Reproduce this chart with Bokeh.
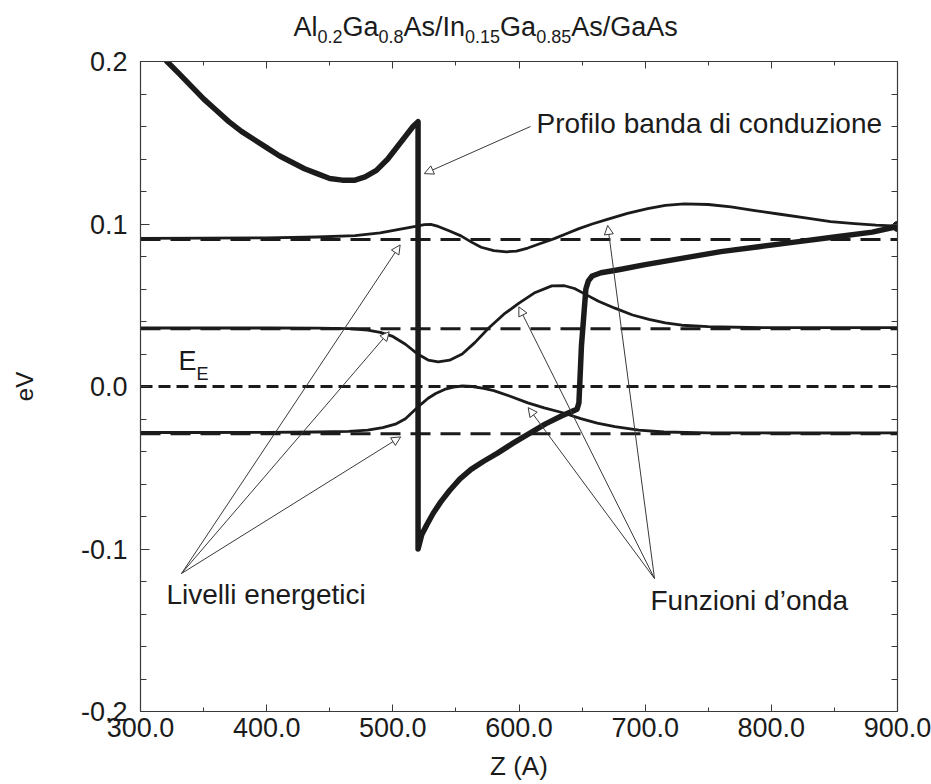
from bokeh.plotting import figure
from bokeh.layouts import column
from bokeh.models import (Range1d, LinearAxis, SingleIntervalTicker, PrintfTickFormatter,
                          CustomJSTickFormatter, Label, Arrow, NormalHead)
from bokeh.core.properties import value
from bokeh.embed import file_html
from bokeh.resources import INLINE

# ---- conduction band profile (eV) vs Z (Angstrom) ----
band_z = [318, 321, 330, 340, 350, 360, 370, 380, 390, 400, 410, 420, 430, 440, 450, 460,
          470, 478, 487, 496, 504, 512, 516, 520,
          520, 523, 527, 532, 538, 545, 553, 562, 572, 583, 595, 608, 621, 634, 643, 646,
          647.5, 649.5, 651.5, 653, 655, 658, 665, 680, 700, 730, 760, 790, 820, 850, 880, 900]
band_e = [0.203, 0.200, 0.193, 0.185, 0.177, 0.170, 0.163, 0.157, 0.152, 0.147, 0.142, 0.138,
          0.134, 0.131, 0.128, 0.127, 0.127, 0.129, 0.133, 0.140, 0.148, 0.156, 0.160, 0.163,
          -0.100, -0.091, -0.085, -0.078, -0.071, -0.064, -0.057, -0.051, -0.046, -0.041,
          -0.035, -0.029, -0.023, -0.018, -0.015, -0.014,
          -0.010, 0.025, 0.045, 0.060, 0.065, 0.068, 0.070, 0.072, 0.075, 0.079, 0.083,
          0.086, 0.089, 0.092, 0.095, 0.0985]

# ---- energy levels (eV) and Fermi level ----
levels = [0.0905, 0.0355, -0.029]
fermi = 0.0

# ---- wavefunctions drawn around their levels ----
wf1_z = [300, 350, 400, 440, 470, 490, 505, 518, 525, 530, 536, 544, 554, 562, 570, 580, 590,
         598, 607, 617, 628, 638, 647, 658, 670, 686, 702, 716, 731, 750, 768, 787, 807, 827,
         847, 866, 883, 900]
wf1_e = [0.0912, 0.0913, 0.0915, 0.0920, 0.0928, 0.0945, 0.0967, 0.0985, 0.0996, 0.0998,
         0.0985, 0.0960, 0.0927, 0.0890, 0.0857, 0.0836, 0.0829, 0.0833, 0.0852, 0.0880,
         0.0910, 0.0942, 0.0970, 0.1000, 0.1028, 0.1065, 0.1095, 0.1115, 0.1124, 0.1120,
         0.1105, 0.1083, 0.1060, 0.1037, 0.1015, 0.1002, 0.0993, 0.0987]

wf2_z = [300, 350, 400, 440, 465, 480, 490, 500, 510, 520, 528, 536, 545, 555, 565, 576, 588,
         600, 612, 626, 636, 644, 652, 663, 676, 690, 703, 716, 729, 750, 782, 820, 860, 900]
wf2_e = [0.0360, 0.0360, 0.0360, 0.0359, 0.0356, 0.0347, 0.0333, 0.0308, 0.0260, 0.0198,
         0.0163, 0.0151, 0.0162, 0.0200, 0.0270, 0.0360, 0.0445, 0.0513, 0.0575, 0.0619,
         0.0620, 0.0603, 0.0570, 0.0525, 0.0482, 0.0440, 0.0413, 0.0392, 0.0377, 0.0368,
         0.0363, 0.0362, 0.0362, 0.0362]

wf3_z = [300, 350, 400, 440, 465, 480, 492, 502, 510, 518, 523, 528, 534, 541, 548, 555, 563,
         572, 580, 593, 607, 620, 634, 649, 662, 676, 695, 715, 750, 800, 850, 900]
wf3_e = [-0.0283, -0.0283, -0.0282, -0.0280, -0.0276, -0.0268, -0.0253, -0.0232, -0.0198,
         -0.0140, -0.0105, -0.0072, -0.0043, -0.0018, -0.0004, 0.0003, 0.0000, -0.0012,
         -0.0025, -0.0060, -0.0101, -0.0132, -0.0160, -0.0198, -0.0225, -0.0247, -0.0268,
         -0.0280, -0.0285, -0.0286, -0.0286, -0.0285]

# ---- title pieces: (text, is_subscript) ----
title_parts = [("Al", False), ("0.2", True), ("Ga", False), ("0.8", True), ("As/In", False),
               ("0.15", True), ("Ga", False), ("0.85", True), ("As/GaAs", False)]

z_range = (300, 900)
e_range = (-0.2, 0.2)

FONT = "Liberation Sans"
INK = "#1b1b1b"
THIN = "#3a3a3a"
W = 931
TITLE_H = 46
PLOT_H = 784 - TITLE_H
FRAME_TOP = 61
BORDER_L, BORDER_R = 140, 34

# pixel helpers for annotation placement (frame: 757 x 650 px, top at y=61)
PX_PER_Z = 757 / 600.0
PX_PER_E = 650 / 0.4


def zpos(px):
    return 300 + (px - BORDER_L) / PX_PER_Z


def epos(py):
    return 0.2 - (py - FRAME_TOP) / PX_PER_E


# ---------------- title strip (shares the Z scale of the plot below) ----------------
xr = Range1d(*z_range)
tfig = figure(width=W, height=TITLE_H, x_range=xr, y_range=Range1d(TITLE_H, 0),
              title=None, output_backend="svg", toolbar_location=None, x_axis_type=None,
              y_axis_type=None, min_border_left=BORDER_L, min_border_right=BORDER_R,
              min_border_top=0, min_border_bottom=0)
tfig.grid.visible = False
tfig.outline_line_color = None

ARIAL = {"A": .667, "l": .222, "G": .778, "a": .556, "s": .5, "/": .278, "I": .278,
         "n": .556, ".": .278}
MAIN, SUB = 27, 18
cx = 293.0
for txt, is_sub in title_parts:
    size = SUB if is_sub else MAIN
    tfig.text(x=[zpos(cx)], y=[35.5 if is_sub else 26], text=[txt], text_font=value(FONT),
              text_font_size=f"{size}px", text_color=INK, text_baseline="middle")
    cx += sum(ARIAL.get(c, .556) for c in txt) * size

# ---------------- main plot ----------------
p = figure(width=W, height=PLOT_H, x_range=xr, y_range=Range1d(*e_range),
           title=None, output_backend="svg", toolbar_location=None,
           min_border_left=BORDER_L, min_border_right=BORDER_R,
           min_border_top=FRAME_TOP - TITLE_H, min_border_bottom=73)
p.grid.visible = False
p.outline_line_color = None
p.background_fill_color = "white"
p.border_fill_color = "white"


def style_axis(ax, labels, major_in, minor_in):
    ax.axis_line_color = THIN
    ax.axis_line_width = 1.2
    ax.major_tick_line_color = THIN
    ax.minor_tick_line_color = THIN
    ax.major_tick_in = major_in
    ax.major_tick_out = 0
    ax.minor_tick_in = minor_in
    ax.minor_tick_out = 0
    if labels:
        ax.major_label_text_font = FONT
        ax.major_label_text_font_size = "27px"
        ax.major_label_text_color = INK
        ax.formatter = PrintfTickFormatter(format="%.1f")
    else:
        ax.formatter = CustomJSTickFormatter(code="return ''")
        ax.major_label_text_font_size = "1px"
        ax.major_label_standoff = 0


# bottom axis
xa = p.xaxis[0]
xa.ticker = SingleIntervalTicker(interval=100, num_minor_ticks=2)
style_axis(xa, True, 7, 4)
xa.major_label_standoff = 6
xa.axis_label = "Z (A)"
xa.axis_label_text_font = FONT
xa.axis_label_text_font_size = "26px"
xa.axis_label_text_font_style = "normal"
xa.axis_label_text_color = INK
xa.axis_label_standoff = 11

# left axis
ya = p.yaxis[0]
ya.ticker = SingleIntervalTicker(interval=0.1, num_minor_ticks=5)
style_axis(ya, True, 9, 6)
ya.major_label_standoff = 13
ya.axis_label = "eV"
ya.axis_label_text_font = FONT
ya.axis_label_text_font_size = "24px"
ya.axis_label_text_font_style = "normal"
ya.axis_label_text_color = INK
ya.axis_label_standoff = 40

# top and right axes close the frame
top = LinearAxis(ticker=SingleIntervalTicker(interval=100, num_minor_ticks=2))
style_axis(top, False, 7, 4)
p.add_layout(top, "above")
right = LinearAxis(ticker=SingleIntervalTicker(interval=0.1, num_minor_ticks=5))
style_axis(right, False, 6, 6)
p.add_layout(right, "right")

# ---- curves ----
for lv in levels:
    p.line([z_range[0], z_range[1]], [lv, lv], line_color=INK, line_width=3,
           line_dash="20 10")
p.line([z_range[0], z_range[1]], [fermi, fermi], line_color=INK, line_width=3,
       line_dash="12 6")

for zz, ee in ((wf1_z, wf1_e), (wf2_z, wf2_e), (wf3_z, wf3_e)):
    p.line(zz, ee, line_color=INK, line_width=2.8, line_join="round")

p.line(band_z, band_e, line_color=INK, line_width=5.5, line_join="round", line_cap="round")
p.scatter([band_z[-1]], [band_e[-1]], size=10, color=INK)


def note(px, py, txt, size):
    # py is the vertical centre of the capitals
    p.add_layout(Label(x=zpos(px), y=epos(py), text=txt, text_font=FONT,
                       text_font_size=f"{size}px", text_color=INK,
                       text_baseline="middle"))


def callout(z0, e0, z1, e1):
    p.add_layout(Arrow(end=NormalHead(size=9, fill_color="white", line_color=THIN,
                                      line_width=1),
                       x_start=z0, y_start=e0, x_end=z1, y_end=e1,
                       line_color=THIN, line_width=1))


# Fermi level label
note(178, 360, "E", 27)
note(196, 373, "E", 18)

note(536, 123, "Profilo banda di conduzione", 28)
callout(zpos(530), epos(126), 525.0, 0.131)

note(166, 594, "Livelli energetici", 28)
for z1, e1 in ((505.8, 0.0871), (497.1, 0.0337), (506.2, -0.031)):
    callout(zpos(181), epos(573), z1, e1)

note(650, 600, "Funzioni d\u2019onda", 28)
for z1, e1 in ((670.3, 0.0991), (599.9, 0.049), (607.3, -0.013)):
    callout(zpos(654), epos(578), z1, e1)

open("out.html", "w").write(file_html(column(tfig, p, spacing=0), INLINE))
